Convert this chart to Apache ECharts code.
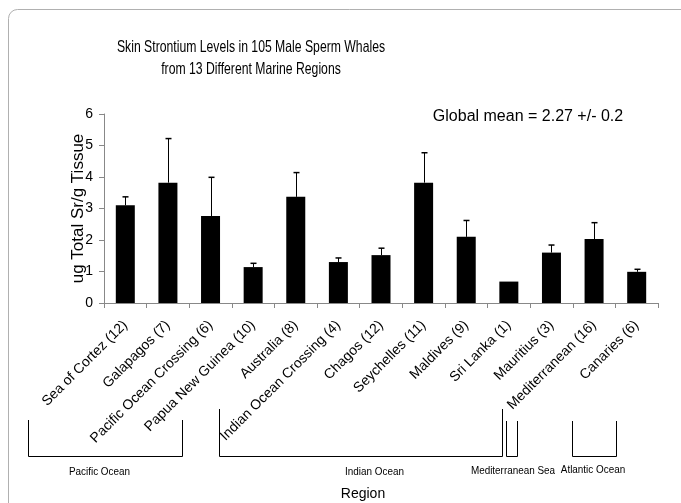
<!DOCTYPE html>
<html><head><meta charset="utf-8">
<script src="https://cdn.jsdelivr.net/npm/echarts@6/dist/echarts.min.js"></script>
<style>html,body{margin:0;padding:0;background:#fff}#c{width:681px;height:503px}</style>
</head><body><div id="c"></div>
<script>
const categories = ["Sea of Cortez (12)","Galapagos (7)","Pacific Ocean Crossing (6)","Papua New Guinea (10)","Australia (8)","Indian Ocean Crossing (4)","Chagos (12)","Seychelles (11)","Maldives (9)","Sri Lanka (1)","Mauritius (3)","Mediterranean (16)","Canaries (6)"];
const means = [3.10, 3.82, 2.76, 1.14, 3.37, 1.30, 1.52, 3.82, 2.10, 0.68, 1.60, 2.03, 0.99];
const errors = [0.27, 1.40, 1.23, 0.12, 0.77, 0.13, 0.22, 0.95, 0.52, 0, 0.24, 0.52, 0.08];
const yTicks = [0, 1, 2, 3, 4, 5, 6];
const regionNames = ["Pacific Ocean","Indian Ocean","Mediterranean Sea","Atlantic Ocean"];
const titleLines = ["Skin Strontium Levels in 105 Male Sperm Whales","from 13 Different Marine Regions"];

const FONT = "'Liberation Sans', Arial, sans-serif";
const chart = echarts.init(document.getElementById('c'), null, {renderer:'canvas'});

const errData = means.map((m,i)=>[i, m, errors[i]]);

// bracket annotations (pixel layout)
const brackets = [
  {x1:28, x2:182, top:420},
  {x1:219, x2:502, top:409},
  {x1:506, x2:517, top:421},
  {x1:572, x2:616, top:421}
];
const regionLabelPos = [[99.5,472],[374.5,472],[513,471],[593,470]];
const graphics = [
  {type:'rect', shape:{x:8.5,y:9.5,width:720,height:540,r:9}, style:{fill:'none',stroke:'#b0b0b0',lineWidth:1}, z:-1}
];
brackets.forEach(b=>{
  graphics.push({type:'polyline', shape:{points:[[b.x1+0.5,b.top],[b.x1+0.5,456.5],[b.x2+0.5,456.5],[b.x2+0.5,b.top]]}, style:{fill:'none',stroke:'#000',lineWidth:1}});
});
regionNames.forEach((n,i)=>{
  graphics.push({type:'text', x:regionLabelPos[i][0], y:regionLabelPos[i][1], scaleX:0.9, style:{text:n, fontFamily:FONT, fontSize:11, fill:'#000', align:'center', verticalAlign:'middle'}});
});
graphics.push({type:'text', x:363, y:494, style:{text:'Region', fontFamily:FONT, fontSize:14, fill:'#000', align:'center', verticalAlign:'middle'}});
graphics.push({type:'text', x:528, y:117, style:{text:'Global mean = 2.27 +/- 0.2', fontFamily:FONT, fontSize:16, fill:'#000', align:'center', verticalAlign:'middle'}});
titleLines.forEach((t,i)=>{
  graphics.push({type:'text', x:251, y:47+i*22, scaleX:0.74, style:{text:t, fontFamily:FONT, fontSize:16.5, fill:'#000', align:'center', verticalAlign:'middle'}});
});

chart.setOption({
  animation:false,
  backgroundColor:'#fff',
  grid:{left:104, right:23, top:114, bottom:200, containLabel:false},
  xAxis:{
    type:'category', data:categories, boundaryGap:true,
    axisLine:{lineStyle:{color:'#888', width:1}},
    axisTick:{show:true, length:5, lineStyle:{color:'#888'}, interval:0},
    axisLabel:{interval:0, rotate:45, fontFamily:FONT, fontSize:14, color:'#000', margin:20}
  },
  yAxis:{
    type:'value', min:yTicks[0], max:yTicks[yTicks.length-1], interval:1,
    name:'ug Total Sr/g Tissue', nameLocation:'middle', nameGap:17, nameMoveOverlap:false,
    nameTextStyle:{fontFamily:FONT, fontSize:17, color:'#000'},
    axisLine:{show:true, lineStyle:{color:'#888'}},
    axisTick:{show:true, length:5, lineStyle:{color:'#888'}},
    axisLabel:{fontFamily:FONT, fontSize:14, color:'#000', margin:11},
    splitLine:{show:false}
  },
  series:[
    {type:'bar', data:means, barWidth:19, itemStyle:{color:'#000'}, z:2},
    {type:'custom', data:errData, z:3,
     renderItem:function(params, api){
       const idx = api.value(0), m = api.value(1), e = api.value(2);
       if (!e) return null;
       const p0 = api.coord([idx, m]);
       const p1 = api.coord([idx, m+e]);
       const x = Math.round(p0[0])+0.5;
       return {type:'group', children:[
         {type:'line', shape:{x1:x,y1:p0[1],x2:x,y2:p1[1]}, style:{stroke:'#000',lineWidth:1}},
         {type:'line', shape:{x1:x-3,y1:p1[1],x2:x+3,y2:p1[1]}, style:{stroke:'#000',lineWidth:1.5}}
       ]};
     }}
  ],
  graphic:graphics
});
</script></body></html>
